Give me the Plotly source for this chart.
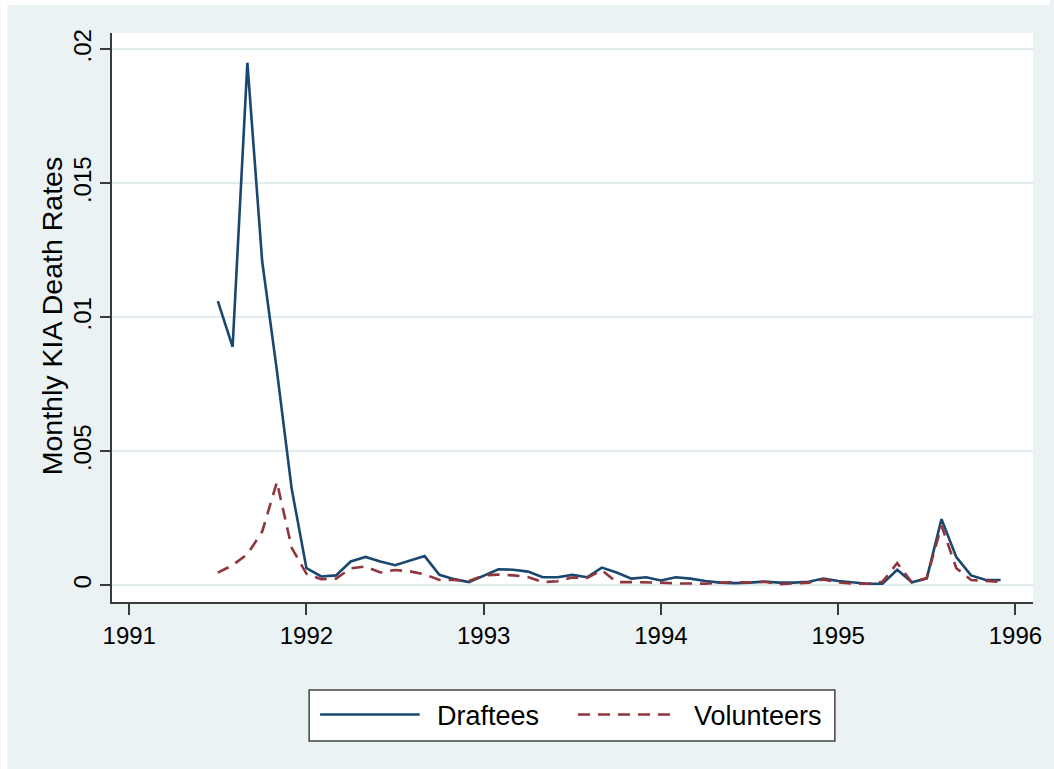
import plotly.graph_objects as go

# ---------------- data ----------------
start_year = 1991
start_month = 7  # July 1991
n_months = 54
months = [start_year + (start_month - 1 + i) / 12 for i in range(n_months)]

draftees = [
    0.0106, 0.0089, 0.0195, 0.0121, 0.0080, 0.0036, 0.00064, 0.00033, 0.00037, 0.00089,
    0.00106, 0.00089, 0.00075, 0.00091, 0.00109, 0.00039, 0.00023, 0.00012, 0.00035, 0.00060,
    0.00058, 0.00051, 0.00030, 0.00030, 0.00039, 0.00030, 0.00066, 0.00048, 0.00025, 0.00030,
    0.00018, 0.00030, 0.00025, 0.00016, 0.00010, 0.00008, 0.00010, 0.00014, 0.00010, 0.00010,
    0.00013, 0.00025, 0.00016, 0.00010, 0.00006, 0.00006, 0.00058, 0.00011, 0.00026, 0.00247,
    0.00105, 0.00037, 0.00020, 0.00020,
]
volunteers = [
    0.00047, 0.00075, 0.00116, 0.00200, 0.00385, 0.00140, 0.00043, 0.00023, 0.00025, 0.00063,
    0.00070, 0.00048, 0.00057, 0.00052, 0.00041, 0.00020, 0.00020, 0.00016, 0.00037, 0.00040,
    0.00037, 0.00031, 0.00012, 0.00015, 0.00029, 0.00027, 0.00056, 0.00012, 0.00012, 0.00012,
    0.00010, 0.00007, 0.00006, 0.00006, 0.00010, 0.00012, 0.00010, 0.00013, 0.00004, 0.00007,
    0.00010, 0.00022, 0.00011, 0.00006, 0.00006, 0.00013, 0.00083, 0.00010, 0.00027, 0.00222,
    0.00064, 0.00020, 0.00016, 0.00013,
]
x_ticks = [1991, 1992, 1993, 1994, 1995, 1996]
x_tick_labels = ["1991", "1992", "1993", "1994", "1995", "1996"]
y_ticks = [0, 0.005, 0.01, 0.015, 0.02]
y_tick_labels = ["0", ".005", ".01", ".015", ".02"]
series_names = ["Draftees", "Volunteers"]
y_title = "Monthly KIA Death Rates"

# ---------------- styling ----------------
W, H = 1054, 769
L, R, T, B = 112, 1037, 33, 602  # plot area in pixels
BG = "#EAF2F3"
GRID = "#E2EBED"
AX = "#3a3a3a"
NAVY = "#1a476f"
MAROON = "#90353b"
FONT = "Liberation Sans, Arial, sans-serif"
DASH = "12px,8px"


def px(xp):
    return (xp - L) / (R - L)


def py(yp):
    return (B - yp) / (B - T)


fig = go.Figure()
fig.add_trace(go.Scatter(x=months, y=draftees, mode="lines", name=series_names[0],
                         line=dict(color=NAVY, width=2.6), showlegend=False))
fig.add_trace(go.Scatter(x=months, y=volunteers, mode="lines", name=series_names[1],
                         line=dict(color=MAROON, width=2.6, dash=DASH), showlegend=False))

shapes = [
    # white border strips (left and top)
    dict(type="rect", xref="paper", yref="paper", x0=px(0), x1=px(7), y0=py(H), y1=py(0),
         fillcolor="white", line=dict(width=0), layer="below"),
    dict(type="rect", xref="paper", yref="paper", x0=px(0), x1=px(W), y0=py(5), y1=py(0),
         fillcolor="white", line=dict(width=0), layer="below"),
    # legend box
    dict(type="rect", xref="paper", yref="paper", x0=px(310), x1=px(838), y0=py(741), y1=py(690),
         fillcolor="white", line=dict(color="#444444", width=1.5), layer="above"),
    dict(type="line", xref="paper", yref="paper", x0=px(321), x1=px(421), y0=py(714.5), y1=py(714.5),
         line=dict(color=NAVY, width=2.6), layer="above"),
    dict(type="line", xref="paper", yref="paper", x0=px(580), x1=px(679), y0=py(714.5), y1=py(714.5),
         line=dict(color=MAROON, width=2.6, dash=DASH), layer="above"),
]

annotations = [
    dict(text=series_names[0], xref="paper", yref="paper", x=px(436), y=py(716),
         xanchor="left", yanchor="middle", showarrow=False, font=dict(size=27, color="black", family=FONT)),
    dict(text=series_names[1], xref="paper", yref="paper", x=px(695), y=py(716),
         xanchor="left", yanchor="middle", showarrow=False, font=dict(size=27, color="black", family=FONT)),
    dict(text=y_title, xref="paper", yref="paper", x=px(52), y=py(316), textangle=-90,
         xanchor="center", yanchor="middle", showarrow=False, font=dict(size=28.5, color="black", family=FONT)),
]

fig.update_layout(
    width=W, height=H,
    margin=dict(l=L, r=W - R, t=T, b=H - B, pad=0),
    paper_bgcolor=BG, plot_bgcolor="white",
    font=dict(family=FONT, color="black", size=24),
    shapes=shapes, annotations=annotations,
    showlegend=False,
)
fig.update_xaxes(
    range=[1991 - 17.3 / 178, 1996 + 17.7 / 178],
    tickvals=x_ticks, ticktext=x_tick_labels,
    ticks="outside", ticklen=11, tickwidth=1.5, tickcolor=AX,
    showline=True, linecolor=AX, linewidth=1.5,
    showgrid=False, zeroline=False,
    tickfont=dict(size=24, color="black", family=FONT),
)
fig.update_yaxes(
    range=[-(602 - 585.3) / 26800, 0.02 + (49.3 - 33) / 26800],
    tickvals=y_ticks, ticktext=y_tick_labels, tickangle=-90,
    ticks="outside", ticklen=10, tickwidth=1.5, tickcolor=AX,
    showline=True, linecolor=AX, linewidth=1.5,
    showgrid=True, gridcolor=GRID, gridwidth=2, zeroline=False,
    tickfont=dict(size=24, color="black", family=FONT),
)

fig.write_html(
    "out.html",
    config={"displayModeBar": False},
    post_script="document.body.style.margin='0';document.body.style.overflow='hidden';",
)
